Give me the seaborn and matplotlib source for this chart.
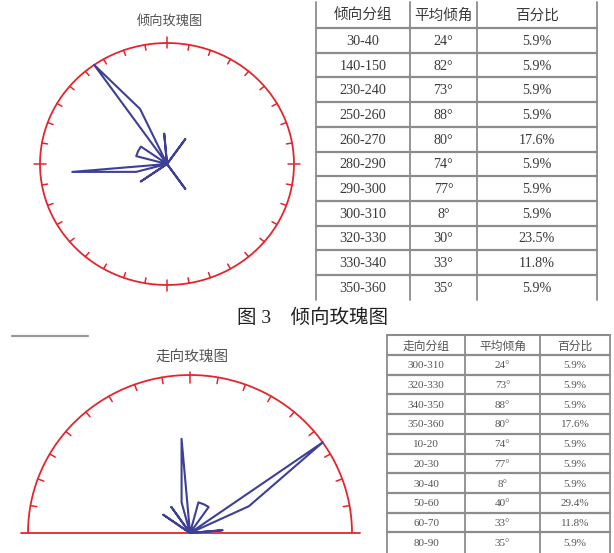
import numpy as np
import pandas as pd
import matplotlib
matplotlib.use("Agg")
import matplotlib.pyplot as plt
import seaborn as sns

# 倾向 (dip direction) table
dip_groups = ["30-40", "140-150", "230-240", "250-260", "260-270", "280-290",
              "290-300", "300-310", "320-330", "330-340", "350-360"]
dip_angle = [24, 82, 73, 88, 80, 74, 77, 8, 30, 33, 35]
dip_pct = [5.9, 5.9, 5.9, 5.9, 17.6, 5.9, 5.9, 5.9, 23.5, 11.8, 5.9]

# 走向 (strike) table
strike_groups = ["300-310", "320-330", "340-350", "350-360", "10-20", "20-30",
                 "30-40", "50-60", "60-70", "80-90"]
strike_angle = [24, 73, 88, 80, 74, 77, 8, 40, 33, 35]
strike_pct = [5.9, 5.9, 5.9, 17.6, 5.9, 5.9, 5.9, 29.4, 11.8, 5.9]

header_dip = ["倾向分组", "平均倾角", "百分比"]
header_strike = ["走向分组", "平均倾角", "百分比"]

sns.set_theme(style="white")
plt.rcParams["font.family"] = ["Noto Sans CJK SC", "DejaVu Sans"]
SERIF = ["Liberation Serif", "Noto Sans CJK SC"]

RED = "#e3262d"
BLUE = "#3d4096"
W, H = 614, 553

fig = plt.figure(figsize=(W / 100, H / 100), dpi=100)

# background axes in pixel coordinates (tables, captions)
bg = fig.add_axes([0, 0, 1, 1])
bg.set_xlim(0, W)
bg.set_ylim(H, 0)
bg.axis("off")


def rose_axes(cx, cy, rx, ry, box):
    x0, y0, x1, y1 = box
    ax = fig.add_axes([x0 / W, 1 - y1 / H, (x1 - x0) / W, (y1 - y0) / H])
    ax.set_xlim((x0 - cx) / rx, (x1 - cx) / rx)
    ax.set_ylim((cy - y1) / ry, (cy - y0) / ry)
    ax.axis("off")
    return ax


def bin_freq(groups, pct):
    # frequency for each 10 degree bin, keyed by bin start
    freq = {}
    for g, p in zip(groups, pct):
        freq[int(g.split("-")[0])] = p
    return freq


def petal_frame(starts, freq, close):
    mx = max(freq.values())
    ang, rad = [], []
    for s in starts:
        ang.append(s + 5)
        rad.append(freq.get(s % 360, 0) / mx)
    if close:
        ang.append(ang[0])
        rad.append(rad[0])
    else:
        ang = [ang[0]] + ang + [ang[-1]]
        rad = [0] + rad + [0]
    t = np.deg2rad(ang)
    r = np.array(rad)
    return pd.DataFrame({"x": r * np.sin(t), "y": r * np.cos(t)})


# ---------------- top: dip direction rose ----------------
ax1 = rose_axes(167, 164, 127, 121, (20, 28, 312, 300))
t = np.linspace(0, 2 * np.pi, 400)
ax1.plot(np.sin(t), np.cos(t), color=RED, lw=1.3)
for a in range(0, 360, 10):
    th = np.deg2rad(a)
    if a % 90 == 0:
        r0, r1 = 0.955, 1.05
    else:
        r0, r1 = 0.955, 1.0
    ax1.plot([r0 * np.sin(th), r1 * np.sin(th)], [r0 * np.cos(th), r1 * np.cos(th)],
             color=RED, lw=1.1)

df1 = petal_frame(list(range(0, 360, 10)), bin_freq(dip_groups, dip_pct), close=True)
sns.lineplot(data=df1, x="x", y="y", sort=False, estimator=None, color=BLUE,
             lw=1.5, ax=ax1)
ax1.set_xlabel("")
ax1.set_ylabel("")
bg.text(170, 21, "倾向玫瑰图", ha="center", va="center", fontsize=9.5, color="#555555")

# ---------------- bottom: strike rose ----------------
ax2 = rose_axes(190, 533, 162, 158, (5, 340, 385, 553))
t2 = np.linspace(-np.pi / 2, np.pi / 2, 300)
ax2.plot(np.sin(t2), np.cos(t2), color=RED, lw=1.3)
ax2.plot([-1.045, 1.05], [0, 0], color=RED, lw=1.3)
for a in list(range(280, 360, 10)) + list(range(0, 90, 10)):
    th = np.deg2rad(a)
    if a == 0:
        r0, r1 = 0.95, 1.02
    else:
        r0, r1 = 0.96, 1.0
    ax2.plot([r0 * np.sin(th), r1 * np.sin(th)], [r0 * np.cos(th), r1 * np.cos(th)],
             color=RED, lw=1.1)

df2 = petal_frame(list(range(270, 450, 10)), bin_freq(strike_groups, strike_pct), close=False)
sns.lineplot(data=df2, x="x", y="y", sort=False, estimator=None, color=BLUE,
             lw=1.5, ax=ax2)
ax2.set_xlabel("")
ax2.set_ylabel("")
bg.text(192, 357, "走向玫瑰图", ha="center", va="center", fontsize=10.5, color="#555555")


# ---------------- tables ----------------
def draw_table(cols, top, head_h, row_h, bottom, header, rows, fs_h, fs_r, tc, top_line):
    lc = "#8c8c8c"
    for x in cols:
        bg.plot([x, x], [top, bottom], color=lc, lw=1.3)
    y = top + head_h
    if top_line:
        bg.plot([cols[0], cols[-1]], [top, top], color=lc, lw=1.5)
    for i in range(len(rows)):
        bg.plot([cols[0], cols[-1]], [y + i * row_h, y + i * row_h], color=lc, lw=1.6)
    centers = [(cols[i] + cols[i + 1]) / 2 for i in range(3)]
    for c, h in zip(centers, header):
        bg.text(c, top + head_h / 2 + 1, h, ha="center", va="center", fontsize=fs_h, color=tc)
    for i, row in enumerate(rows):
        yc = y + (i + 0.5) * row_h + 1
        for c, v in zip(centers, row):
            bg.text(c, yc, v, ha="center", va="center", fontsize=fs_r, color=tc,
                    family=SERIF)


rows_dip = [(g, f"{a}°", f"{p}%") for g, a, p in zip(dip_groups, dip_angle, dip_pct)]
draw_table([316, 410, 477, 597], 2, 26, 24.7, 300, header_dip, rows_dip,
           10.5, 10.2, "#3a3a3a", False)

rows_strike = [(g, f"{a}°", f"{p}%") for g, a, p in zip(strike_groups, strike_angle, strike_pct)]
draw_table([387, 465, 540, 610], 335, 20, 19.7, 553, header_strike, rows_strike,
           8.5, 8, "#555555", True)

# caption and separator line
bg.text(313, 318, "图 3　倾向玫瑰图", ha="center", va="center", fontsize=14,
        color="#222222", family=SERIF)
bg.plot([12, 88], [336, 336], color="#9a9a9a", lw=1.6)

fig.savefig("out.png", dpi=100)
